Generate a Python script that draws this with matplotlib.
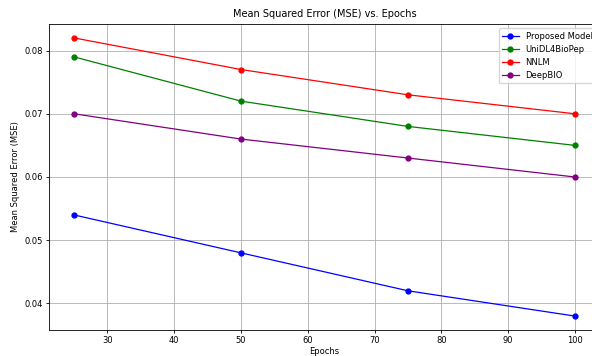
import matplotlib.pyplot as plt

epochs = [25, 50, 75, 100]

# MSE per model
proposed = [0.054, 0.048, 0.042, 0.038]
unidl4biopep = [0.079, 0.072, 0.068, 0.065]
nnlm = [0.082, 0.077, 0.073, 0.070]
deepbio = [0.070, 0.066, 0.063, 0.060]

plt.rcParams['font.size'] = 6

fig = plt.figure(figsize=(5.92, 3.56), dpi=100)
# the original picture is cropped on the right, so the axes run past the edge
ax = fig.add_axes([49/592, 26/356, 551/592, 306/356])

ax.plot(epochs, proposed, label='Proposed Model', marker='o', color='blue', ms=3.5, lw=0.9)
ax.plot(epochs, unidl4biopep, label='UniDL4BioPep', marker='o', color='green', ms=3.5, lw=0.9)
ax.plot(epochs, nnlm, label='NNLM', marker='o', color='red', ms=3.5, lw=0.9)
ax.plot(epochs, deepbio, label='DeepBIO', marker='o', color='purple', ms=3.5, lw=0.9)

ax.set_xlabel('Epochs', fontsize=6, labelpad=1.5)
ax.set_ylabel('Mean Squared Error (MSE)', fontsize=6, labelpad=3)
ax.set_title('Mean Squared Error (MSE) vs. Epochs', fontsize=7, pad=5)
ax.tick_params(labelsize=6, length=2.5, width=0.6, pad=2)
for s in ax.spines.values():
    s.set_linewidth(0.6)
ax.grid(True, linewidth=0.6)
ax.legend(loc='upper right', fontsize=6, framealpha=0.8)

fig.savefig('out.png', dpi=100)
